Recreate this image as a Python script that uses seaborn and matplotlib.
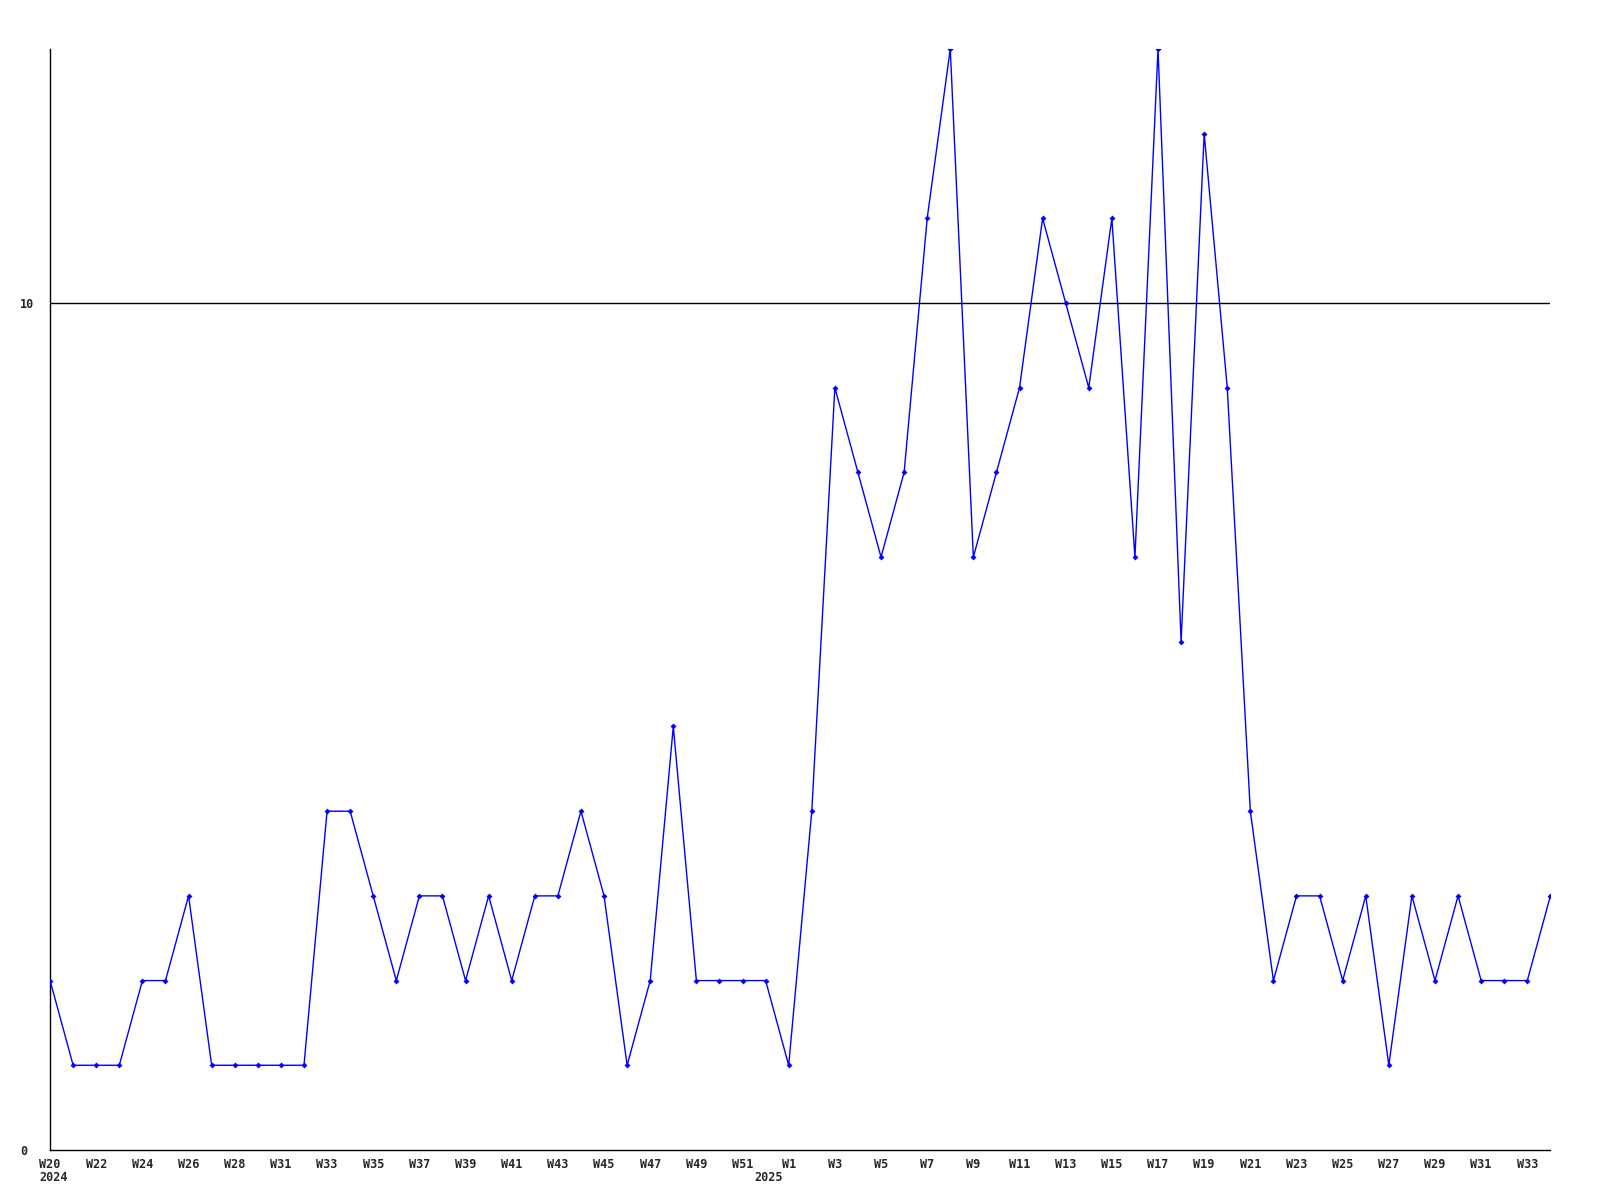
import numpy as np
import pandas as pd
import seaborn as sns
import matplotlib.pyplot as plt

# weekly counts, 2024 W20 .. 2025 W34
weeks_2024 = ["W20", "W21", "W22", "W23", "W24", "W25", "W26", "W27", "W28", "W30",
              "W31", "W32", "W33", "W34", "W35", "W36", "W37", "W38", "W39", "W40",
              "W41", "W42", "W43", "W44", "W45", "W46", "W47", "W48", "W49", "W50",
              "W51", "W52"]
weeks_2025 = ["W%d" % w for w in range(1, 35)]

counts_2024 = [2, 1, 1, 1, 2, 2, 3, 1, 1, 1,
               1, 1, 4, 4, 3, 2, 3, 3, 2, 3,
               2, 3, 3, 4, 3, 1, 2, 5, 2, 2,
               2, 2]
counts_2025 = [1, 4, 9, 8, 7, 8, 11, 13, 7, 8,
               9, 11, 10, 9, 11, 7, 13, 6, 12, 9,
               4, 2, 3, 3, 2, 3, 1, 3, 2, 3,
               2, 2, 2, 3]

week_labels = weeks_2024 + weeks_2025
counts = counts_2024 + counts_2025
df = pd.DataFrame({"idx": np.arange(len(counts)), "count": counts})

sns.set_style("white")
plt.rcParams["font.family"] = ["DejaVu Sans Mono"]
plt.rcParams["font.weight"] = "bold"

fig = plt.figure(figsize=(16, 12), dpi=100)
ax = fig.add_axes([0.0313, 0.0417, 0.9377, 0.9175])

ax.axhline(10, color="black", lw=1, zorder=1)
sns.lineplot(data=df, x="idx", y="count", ax=ax, color="#0000ff", lw=1,
             marker="D", markersize=3, markeredgewidth=0, zorder=3)

ax.set_xlim(0, len(counts) - 1)
ax.set_ylim(0, 13)
ax.set_xticks(np.arange(0, len(counts), 2))
ax.set_xticklabels(week_labels[::2], fontsize=8.5, fontweight="bold")
ax.set_yticks([0, 10])
ax.set_yticklabels(["0", "10"], fontsize=8.5, fontweight="bold", ha="left")
ax.tick_params(length=0, pad=6)
ax.tick_params(axis="y", pad=21.5)
ax.set_xlabel("")
ax.set_ylabel("")

for s in ["top", "right"]:
    ax.spines[s].set_visible(False)
for s in ["left", "bottom"]:
    ax.spines[s].set_color("black")
    ax.spines[s].set_linewidth(1)

# year markers under the week labels
trans = ax.get_xaxis_transform()
ax.text(0.15, -0.019, "2024", transform=trans, ha="center", va="top",
        fontsize=8.5, fontweight="bold")
ax.text(len(weeks_2024) - 0.87, -0.019, "2025", transform=trans, ha="center",
        va="top", fontsize=8.5, fontweight="bold")

fig.savefig("out.png", dpi=100, facecolor="white")
